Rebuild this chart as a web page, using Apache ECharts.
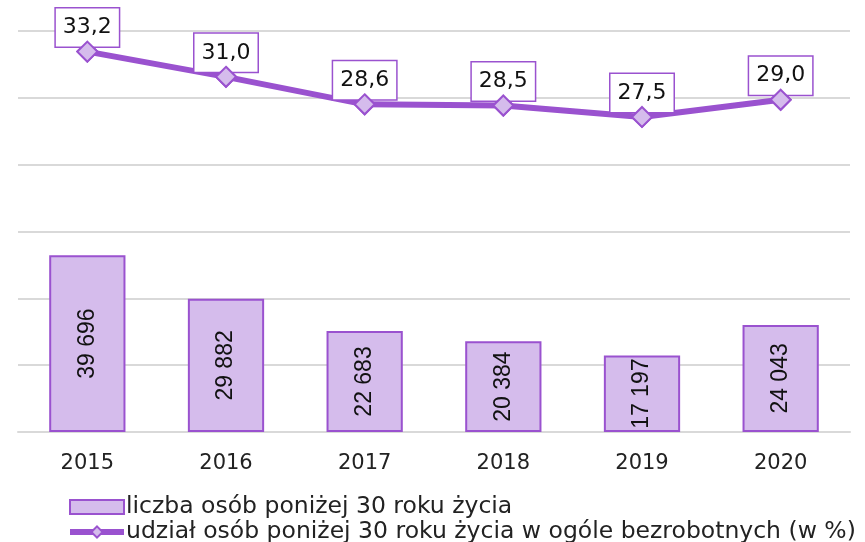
<!DOCTYPE html>
<html>
<head>
<meta charset="utf-8">
<script src="https://cdn.jsdelivr.net/npm/echarts@6/dist/echarts.min.js"></script>
<style>html,body{margin:0;padding:0;background:#fff}#c{width:865px;height:542px}</style>
</head>
<body>
<div id="c"></div>
<script>
var categories = ['2015', '2016', '2017', '2018', '2019', '2020'];
var countValues = [39696, 29882, 22683, 20384, 17197, 24043];
var shareValues = [33.2, 31.0, 28.6, 28.5, 27.5, 29.0];
var seriesNames = ['liczba osób poniżej 30 roku życia', 'udział osób poniżej 30 roku życia w ogóle bezrobotnych (w %)'];

var purple = '#9a52cf';
var lilac = '#d5bcec';
var font = 'DejaVu Sans';

var chart = echarts.init(document.getElementById('c'), null, {renderer: 'canvas'});
chart.setOption({
  animation: false,
  backgroundColor: '#fff',
  grid: {left: 18, right: 15, top: 31, bottom: 110, containLabel: false},
  legend: {
    orient: 'vertical', left: 67, top: 495, itemGap: 1, padding: 0,
    width: 800, height: 60,
    itemWidth: 54, itemHeight: 14,
    textStyle: {fontFamily: font, fontSize: 23.5, color: '#222', padding: [0, 0, 0, -3]},
    data: [
      {name: seriesNames[0], icon: 'rect', itemStyle: {color: lilac, borderColor: purple, borderWidth: 2}},
      {name: seriesNames[1], lineStyle: {width: 6, color: purple}}
    ]
  },
  xAxis: {
    type: 'category', data: categories,
    axisLine: {lineStyle: {color: '#d9d9d9', width: 2}},
    axisTick: {show: false},
    axisLabel: {fontFamily: font, fontSize: 21, color: '#222', margin: 21}
  },
  yAxis: [
    {type: 'value', min: 0, max: 90000, interval: 15000,
     axisLabel: {show: false}, axisLine: {show: false}, axisTick: {show: false},
     splitLine: {lineStyle: {color: '#d9d9d9', width: 2}}},
    {type: 'value', min: 0, max: 35,
     axisLabel: {show: false}, axisLine: {show: false}, axisTick: {show: false},
     splitLine: {show: false}}
  ],
  series: [
    {
      name: seriesNames[0], type: 'bar', data: countValues, barWidth: '55%',
      itemStyle: {color: lilac, borderColor: purple, borderWidth: 2},
      label: {
        show: true, position: 'inside', rotate: 90,
        fontFamily: 'Liberation Sans', fontSize: 23, color: '#111',
        formatter: function (p) { return String(p.value).replace(/\B(?=(\d{3})+(?!\d))/g, ' '); }
      }
    },
    {
      name: seriesNames[1], type: 'line', yAxisIndex: 1, data: shareValues,
      lineStyle: {color: purple, width: 6},
      itemStyle: {color: lilac, borderColor: purple, borderWidth: 2},
      symbol: 'diamond', symbolSize: 20,
      label: {
        show: true, position: 'top', distance: -6,
        fontFamily: font, fontSize: 22, color: '#111',
        backgroundColor: '#fff', borderColor: purple, borderWidth: 1.5,
        padding: [8, 7, 8, 7],
        formatter: function (p) { return p.value.toFixed(1).replace('.', ','); }
      },
      z: 5
    },
    {
      name: 'markers', type: 'scatter', yAxisIndex: 1, data: shareValues,
      symbol: 'diamond', symbolSize: 20, zlevel: 1, silent: true,
      itemStyle: {color: lilac, borderColor: purple, borderWidth: 2, opacity: 1}
    }
  ]
});
</script>
</body>
</html>
